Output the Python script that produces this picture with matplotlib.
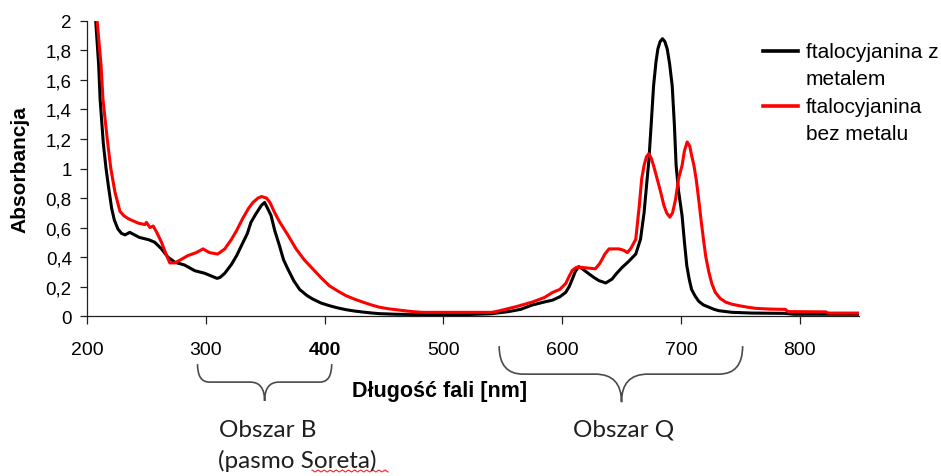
import numpy as np
import matplotlib
matplotlib.use("Agg")
import matplotlib.pyplot as plt
from matplotlib.path import Path
from matplotlib.patches import PathPatch
from matplotlib.transforms import blended_transform_factory
from matplotlib.lines import Line2D

# UV-Vis spectra of phthalocyanines
wl_metal = [206, 207.3, 209.8, 211, 213.7, 216, 218, 220.7, 223, 226, 229, 232, 236, 240,
            244, 248, 252, 257, 262.7, 268, 274, 282, 290.7, 299, 305, 309.5, 312, 316,
            321.6, 326, 330, 335, 338, 342, 346.8, 349.5, 352, 355, 358, 362, 365.5, 369,
            374, 379, 385, 390, 397, 404, 411, 418, 425, 432, 439, 446, 460, 480, 500,
            520, 540, 555, 565, 575, 585, 592, 598, 603, 606, 608.6, 611, 614, 617, 622.7,
            627, 631, 636.7, 642, 646, 650.6, 656, 662, 666, 669, 671.6, 673, 675, 677,
            679, 680.6, 682.5, 684.5, 686.5, 688.5, 690.5, 692.7, 694.5, 696, 698, 701,
            703, 705, 707, 709, 712, 715, 719, 723.5, 728, 732, 743, 760, 788, 795, 850]
abs_metal = [2.05, 2.0, 1.70, 1.47, 1.17, 1.0, 0.88, 0.73, 0.65, 0.59, 0.56, 0.55, 0.567, 0.55,
             0.533, 0.525, 0.517, 0.50, 0.455, 0.40, 0.364, 0.346, 0.307, 0.29, 0.27, 0.255,
             0.262, 0.29, 0.35, 0.41, 0.477, 0.56, 0.635, 0.69, 0.75, 0.77, 0.73, 0.68, 0.58,
             0.477, 0.38, 0.32, 0.24, 0.18, 0.14, 0.115, 0.088, 0.07, 0.055, 0.043, 0.034,
             0.027, 0.021, 0.016, 0.012, 0.01, 0.01, 0.01, 0.015, 0.03, 0.045, 0.075, 0.095,
             0.108, 0.13, 0.16, 0.2, 0.25, 0.3, 0.335, 0.32, 0.285, 0.26, 0.24, 0.224, 0.25,
             0.29, 0.33, 0.37, 0.42, 0.52, 0.7, 0.93, 1.05, 1.3, 1.56, 1.72, 1.81, 1.86, 1.88,
             1.86, 1.81, 1.71, 1.56, 1.3, 1.02, 0.85, 0.68, 0.5, 0.34, 0.25, 0.18, 0.135, 0.10,
             0.075, 0.06, 0.045, 0.036, 0.025, 0.02, 0.018, 0.012, 0.012]

wl_free = [207, 208.5, 211.8, 213.4, 217, 220, 223.5, 227.7, 231, 234.7, 243, 248.7, 250, 253,
           255.7, 258.5, 262.7, 267, 269.7, 274, 279.6, 285, 292, 297.7, 303, 310, 316, 321.6,
           326, 331, 336, 339.7, 344, 347, 351, 354, 358, 362, 369, 376, 383, 390, 397, 404,
           411, 418, 425, 432, 439, 446, 453, 460, 467, 474, 482, 510, 541, 547, 553, 562, 575,
           585, 592, 598, 603, 606, 608.6, 612, 616, 622, 628, 632, 636, 639.5, 648, 652, 655,
           658, 662, 665, 667, 669, 671, 673, 675, 677, 680, 683, 685.7, 688, 690.7, 693, 695.5,
           698, 701, 703, 705.3, 707.5, 709, 711, 713, 715, 717, 719, 721, 723.5, 726, 729, 733,
           737.5, 743, 749, 756, 763, 775, 788, 790, 822, 824, 850]
abs_free = [2.1, 2.0, 1.70, 1.47, 1.2, 1.0, 0.84, 0.71, 0.68, 0.66, 0.63, 0.62, 0.635, 0.60,
            0.61, 0.57, 0.50, 0.41, 0.36, 0.36, 0.385, 0.41, 0.43, 0.455, 0.43, 0.42, 0.455,
            0.52, 0.58, 0.66, 0.73, 0.77, 0.80, 0.81, 0.80, 0.77, 0.70, 0.64, 0.55, 0.455, 0.38,
            0.32, 0.26, 0.205, 0.17, 0.138, 0.115, 0.095, 0.076, 0.06, 0.05, 0.043, 0.036, 0.03,
            0.025, 0.025, 0.025, 0.035, 0.047, 0.065, 0.095, 0.125, 0.16, 0.18, 0.22, 0.27,
            0.31, 0.33, 0.33, 0.325, 0.32, 0.36, 0.42, 0.455, 0.455, 0.445, 0.43, 0.46, 0.52,
            0.75, 0.93, 1.02, 1.08, 1.10, 1.07, 1.02, 0.93, 0.84, 0.75, 0.70, 0.67, 0.70, 0.79,
            0.93, 1.02, 1.12, 1.18, 1.15, 1.09, 1.02, 0.92, 0.79, 0.65, 0.52, 0.40, 0.30, 0.22,
            0.16, 0.12, 0.095, 0.08, 0.07, 0.06, 0.052, 0.047, 0.045, 0.03, 0.028, 0.02, 0.02]

series_labels = ["ftalocyjanina z\nmetalem", "ftalocyjanina\nbez metalu"]
series_colors = ["black", "#ff0000"]
x_ticks = [200, 300, 400, 500, 600, 700, 800]
x_tick_labels = ["200", "300", "400", "500", "600", "700", "800"]
y_ticks = [0, 0.2, 0.4, 0.6, 0.8, 1.0, 1.2, 1.4, 1.6, 1.8, 2.0]
y_tick_labels = ["0", "0,2", "0,4", "0,6", "0,8", "1", "1,2", "1,4", "1,6", "1,8", "2"]

# spectral regions marked with braces: (start, tip, end) in nm
regions = {"B": (293, 349.5, 406), "Q": (547, 650, 752)}

plt.rcParams["font.family"] = ["Liberation Sans", "DejaVu Sans"]

W, H = 941, 477
fig = plt.figure(figsize=(W / 100, H / 100), dpi=100)
ax = fig.add_axes([0.0925, 0.3354, 0.8204, 0.6185])

ax.plot(wl_metal, abs_metal, color=series_colors[0], lw=2.2, zorder=3)
ax.plot(wl_free, abs_free, color=series_colors[1], lw=2.2, zorder=4)

ax.set_xlim(200, 850)
ax.set_ylim(0, 2)
for s in ("top", "right"):
    ax.spines[s].set_visible(False)
for s in ("left", "bottom"):
    ax.spines[s].set_linewidth(0.9)
    ax.spines[s].set_color("#202020")

ax.set_xticks(x_ticks)
ax.set_xticklabels(x_tick_labels)
ax.set_yticks(y_ticks)
ax.set_yticklabels(y_tick_labels)
ax.tick_params(axis="x", direction="out", length=6, width=0.9, pad=12, labelsize=14,
               color="#202020")
ax.tick_params(axis="y", direction="out", length=5, width=0.9, pad=6, labelsize=13.5,
               color="#202020")
for lab in ax.get_xticklabels():
    if lab.get_text() == "400":
        lab.set_fontweight("bold")

ax.set_ylabel("Absorbancja", fontsize=15, fontweight="bold")
ax.yaxis.set_label_coords(-0.074, 0.5)
ax.set_xlabel("Długość fali [nm]", fontsize=15.5, fontweight="bold")
ax.xaxis.set_label_coords(0.4567, -0.218)

# legend to the upper right: short line sample followed by a two-line label
leg_rows = [52, 107]          # pixel rows of the sample lines
line_gap = 27                 # pixels between the two label lines
for label, color, row in zip(series_labels, series_colors, leg_rows):
    fig.add_artist(Line2D([763 / W, 798 / W], [1 - row / H, 1 - row / H],
                          color=color, lw=2.6))
    fig.text(806 / W, 1 - (row + 6 + line_gap) / H, label, fontsize=15, ha="left",
             va="baseline", linespacing=1.56)

# curly braces below the axis
trans = blended_transform_factory(ax.transData, ax.transAxes)


def brace(x0, xm, x1, y_top, y_mid, y_tip, r_end, r_mid):
    verts = [(x0, y_top), (x0, y_mid), (x0 + r_end, y_mid),
             (xm - r_mid, y_mid),
             (xm, y_mid), (xm, y_tip),
             (xm, y_mid), (xm + r_mid, y_mid),
             (x1 - r_end, y_mid),
             (x1, y_mid), (x1, y_top)]
    codes = [Path.MOVETO, Path.CURVE3, Path.CURVE3,
             Path.LINETO,
             Path.CURVE3, Path.CURVE3,
             Path.CURVE3, Path.CURVE3,
             Path.LINETO,
             Path.CURVE3, Path.CURVE3]
    p = PathPatch(Path(verts, codes), transform=trans, fill=False,
                  edgecolor="#4a4a4a", lw=1.2, clip_on=False)
    ax.add_patch(p)


b0, bm, b1 = regions["B"]
brace(b0, bm, b1, -0.163, -0.224, -0.288, 10, 12)
q0, qm, q1 = regions["Q"]
brace(q0, qm, q1, -0.102, -0.197, -0.292, 20, 22)

txt_kw = dict(fontsize=17.5, color="#1e1e1e", family=["Lato", "DejaVu Sans"],
              ha="left", va="baseline")
fig.text(219 / W, 1 - 437 / H, "Obszar B", **txt_kw)
fig.text(218 / W, 1 - 468 / H, "(pasmo Soreta)", **txt_kw)
fig.text(573 / W, 1 - 437 / H, "Obszar Q", **txt_kw)

# spell-check style squiggle under "Soreta"
sq_x = np.linspace(312, 388, 26)
sq_y = 472 + np.where(np.arange(26) % 2 == 0, -1.0, 1.0)
fig.add_artist(Line2D(sq_x / W, 1 - sq_y / H, color="#ff2020", lw=0.8))

fig.savefig("out.png", dpi=100)
